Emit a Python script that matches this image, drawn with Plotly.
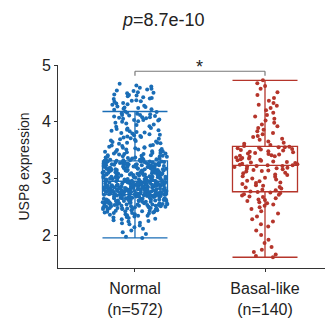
import plotly.graph_objects as go

categories = ["Normal", "Basal-like"]
sample_sizes = [572, 140]
p_value_text = "8.7e-10"
significance = "*"

normal_expr = [
    # below Q1
    1.95, 1.97, 2.02, 2.05, 2.08, 2.11, 2.14, 2.17, 2.19,
    2.21, 2.22, 2.24, 2.25, 2.26, 2.28, 2.29, 2.30, 2.31, 2.32,
    2.33, 2.34, 2.34, 2.35, 2.36, 2.37, 2.37, 2.38, 2.39, 2.39,
    2.40, 2.40,
    2.41, 2.41, 2.42, 2.42, 2.43, 2.43, 2.44, 2.44, 2.45, 2.45,
    2.46, 2.46, 2.46, 2.47, 2.47, 2.47, 2.48, 2.48, 2.48, 2.49,
    2.49, 2.49, 2.50, 2.50, 2.50, 2.51, 2.51, 2.51, 2.52, 2.52,
    2.52, 2.53, 2.53, 2.53, 2.53, 2.54, 2.54, 2.54, 2.54, 2.55,
    2.55, 2.55, 2.55, 2.55, 2.56,
    2.56, 2.56, 2.57, 2.57, 2.57, 2.57, 2.58, 2.58, 2.58, 2.58,
    2.59, 2.59, 2.59, 2.59, 2.60, 2.60, 2.60, 2.60, 2.61, 2.61,
    2.61, 2.61, 2.62, 2.62, 2.62, 2.62, 2.63, 2.63, 2.63, 2.63,
    2.64, 2.64, 2.64, 2.64, 2.65, 2.65, 2.65, 2.65, 2.66, 2.66,
    2.66, 2.66, 2.67, 2.67, 2.67, 2.67, 2.68, 2.68, 2.68, 2.68,
    2.69, 2.69, 2.69, 2.69, 2.70, 2.70, 2.70, 2.70, 2.70, 2.71,
    2.71, 2.71, 2.71, 2.71, 2.71, 2.71, 2.71,
    # Q1 to median
    2.72, 2.72, 2.72, 2.72, 2.72, 2.72, 2.73, 2.73, 2.73, 2.73,
    2.73, 2.73, 2.74, 2.74, 2.74, 2.74, 2.74, 2.74, 2.75, 2.75,
    2.75, 2.75, 2.75, 2.75, 2.76, 2.76, 2.76, 2.76, 2.76, 2.76,
    2.77, 2.77, 2.77, 2.77, 2.77, 2.77, 2.78, 2.78, 2.78, 2.78,
    2.78, 2.78, 2.79, 2.79, 2.79, 2.79, 2.79, 2.79, 2.80, 2.80,
    2.80, 2.80, 2.80, 2.80, 2.81, 2.81, 2.81, 2.81, 2.81, 2.81,
    2.82, 2.82, 2.82, 2.82, 2.82, 2.82, 2.83, 2.83, 2.83, 2.83,
    2.83, 2.83, 2.84, 2.84, 2.84, 2.84, 2.84, 2.84, 2.85, 2.85,
    2.85, 2.85, 2.85, 2.85, 2.86, 2.86, 2.86, 2.86, 2.86, 2.86,
    2.87, 2.87, 2.87, 2.87, 2.87, 2.87, 2.88, 2.88, 2.88, 2.88,
    2.88, 2.88, 2.89, 2.89, 2.89, 2.89, 2.89, 2.89, 2.90, 2.90,
    2.90, 2.90, 2.90, 2.90, 2.91, 2.91, 2.91, 2.91, 2.91, 2.91,
    2.92, 2.92, 2.92, 2.92, 2.92, 2.92, 2.93, 2.93, 2.93, 2.93,
    2.93, 2.93, 2.94, 2.94, 2.94, 2.94, 2.94, 2.94, 2.95, 2.95,
    2.95, 2.95, 2.95,
    # median to Q3
    2.95, 2.96, 2.96, 2.96, 2.96, 2.97, 2.97, 2.97, 2.97, 2.98,
    2.98, 2.98, 2.98, 2.99, 2.99, 2.99, 2.99, 3.00, 3.00, 3.00,
    3.00, 3.01, 3.01, 3.01, 3.01, 3.02, 3.02, 3.02, 3.02, 3.03,
    3.03, 3.03, 3.03, 3.04, 3.04, 3.04, 3.04, 3.05, 3.05, 3.05,
    3.05, 3.06, 3.06, 3.06, 3.06, 3.07, 3.07, 3.07, 3.07, 3.08,
    3.08, 3.08, 3.08, 3.09, 3.09, 3.09, 3.09, 3.10, 3.10, 3.10,
    3.10, 3.11, 3.11, 3.11, 3.11, 3.12, 3.12, 3.12, 3.12, 3.13,
    3.13, 3.13, 3.13, 3.14, 3.14, 3.14, 3.14, 3.15, 3.15, 3.15,
    3.15, 3.16, 3.16, 3.16, 3.16, 3.17, 3.17, 3.17, 3.17, 3.18,
    3.18, 3.18, 3.18, 3.19, 3.19, 3.19, 3.19, 3.20, 3.20, 3.20,
    3.20, 3.21, 3.21, 3.21, 3.21, 3.22, 3.22, 3.22, 3.22, 3.23,
    3.23, 3.23, 3.23, 3.24, 3.24, 3.24, 3.24, 3.25, 3.25, 3.25,
    3.25, 3.26, 3.26, 3.26, 3.26, 3.27, 3.27, 3.27, 3.27, 3.28,
    3.28, 3.28, 3.28, 3.29, 3.29, 3.29, 3.29, 3.30, 3.30, 3.30,
    3.30, 3.31, 3.31,
    # above Q3
    3.31, 3.31, 3.32, 3.34, 3.36, 3.38, 3.40, 3.44, 3.47, 3.31,
    3.32, 3.32, 3.33, 3.33, 3.34, 3.35, 3.35, 3.36, 3.37, 3.37,
    3.38, 3.39, 3.39, 3.40, 3.41, 3.41, 3.42, 3.43, 3.43, 3.44,
    3.45, 3.45, 3.46, 3.47, 3.48, 3.48, 3.49, 3.50, 3.51, 3.51,
    3.52, 3.53, 3.54, 3.54, 3.55, 3.56, 3.57, 3.58, 3.58, 3.59,
    3.61, 3.62, 3.63, 3.63, 3.65, 3.66, 3.67, 3.68, 3.70, 3.71,
    3.72, 3.73, 3.74, 3.76, 3.77, 3.78, 3.79, 3.80, 3.81, 3.82,
    3.83, 3.84, 3.85, 3.86, 3.87, 3.88, 3.89, 3.64, 3.69, 3.75,
    3.91, 3.92, 3.94, 3.95, 3.97, 3.98, 4.00, 4.01, 4.02, 4.03,
    4.04, 4.05, 4.06, 4.07, 4.08, 4.09, 4.10, 4.11, 4.12, 4.13,
    4.14, 4.15, 4.16, 4.17, 4.18, 4.03, 4.08, 4.12,
    4.21, 4.22, 4.23, 4.24, 4.25, 4.26, 4.27, 4.28, 4.30, 4.31,
    4.32, 4.33, 4.35, 4.36, 4.37, 4.38, 4.40, 4.41, 4.42, 4.43,
    4.45, 4.46, 4.47, 4.48, 4.50, 4.51, 4.52, 4.54, 4.55, 4.57,
    4.58, 4.60, 4.62, 4.64, 4.67,
]

basal_expr = [
    1.61, 1.63, 1.66, 1.70, 1.74, 1.79, 1.86, 1.92, 2.00, 2.08,
    2.15, 2.19, 2.24, 2.28, 2.33, 2.38, 2.42, 2.46, 2.49, 2.52,
    2.54, 2.56, 2.58, 2.60, 2.62, 2.63, 2.65, 2.67, 2.68, 2.70,
    2.71, 2.72, 2.74, 2.75, 2.76,
    2.77, 2.79, 2.80, 2.82, 2.84, 2.85, 2.87, 2.88, 2.90, 2.92,
    2.93, 2.95, 2.96, 2.98, 3.00, 3.01, 3.03, 3.04, 3.06, 3.07,
    3.09, 3.10, 3.12, 3.13, 3.14, 3.15, 3.16, 3.17, 3.18, 3.19,
    3.20, 3.21, 3.22, 3.22, 3.23,
    3.23, 3.24, 3.25, 3.26, 3.27, 3.28, 3.29, 3.30, 3.31, 3.32,
    3.33, 3.34, 3.35, 3.36, 3.37, 3.38, 3.39, 3.40, 3.41, 3.42,
    3.43, 3.44, 3.45, 3.46, 3.47, 3.48, 3.49, 3.50, 3.51, 3.52,
    3.53, 3.54, 3.55, 3.55, 3.56,
    3.57, 3.59, 3.61, 3.63, 3.65, 3.68, 3.70, 3.73, 3.75, 3.78,
    3.80, 3.83, 3.86, 3.89, 3.92, 3.95, 3.98, 4.02, 4.05, 4.09,
    4.12, 4.16, 4.20, 4.24, 4.28, 4.30, 4.33, 4.37, 4.42, 4.47,
    4.52, 4.58, 4.63, 4.68, 4.73,
]

colors = ["#1a6db6", "#b5352b"]
FONT = "Arial, Liberation Sans, sans-serif"

fig = go.Figure()
for cat, vals, col in zip(categories, [normal_expr, basal_expr], colors):
    fig.add_trace(go.Box(
        y=vals, x=[cat] * len(vals), name=cat,
        boxpoints="all", jitter=1, pointpos=0,
        marker=dict(color=col, size=4, line=dict(width=0)),
        line=dict(color=col, width=1.3),
        fillcolor="rgba(0,0,0,0)",
        whiskerwidth=1, width=0.5,
        showlegend=False, hoverinfo="y",
    ))

tick_text = [f"{c}<br>(n={n})" for c, n in zip(categories, sample_sizes)]

# significance bracket
fig.add_shape(type="line", x0=categories[0], x1=categories[1], y0=4.89, y1=4.89,
              xref="x", yref="y", line=dict(color="#777777", width=1.2))
for c in categories:
    fig.add_shape(type="line", x0=c, x1=c, y0=4.81, y1=4.89,
                  xref="x", yref="y", line=dict(color="#777777", width=1.2))
fig.add_annotation(x=0.5, y=4.89, xref="x", yref="y", text=significance,
                   showarrow=False, yanchor="bottom", yshift=-8,
                   font=dict(family=FONT, size=18, color="#222"))
fig.add_annotation(x=0.385, y=1.222, xref="paper", yref="paper",
                   xanchor="center", yanchor="middle",
                   text=f"<i>p</i>={p_value_text}", showarrow=False,
                   font=dict(family=FONT, size=18, color="#222"))

fig.update_layout(
    width=325, height=313,
    margin=dict(l=50, r=0, t=57, b=53),
    paper_bgcolor="white", plot_bgcolor="white",
    boxmode="overlay",
    font=dict(family=FONT, color="#222"),
    xaxis=dict(type="category", categoryorder="array", categoryarray=categories,
               tickvals=categories, ticktext=tick_text, automargin=False,
               range=[-0.592, 1.523], showline=True, linecolor="#333", linewidth=1,
               ticks="outside", ticklen=3, tickcolor="#333", ticklabelstandoff=3,
               tickfont=dict(size=16, family=FONT, color="#222"),
               showgrid=False, zeroline=False),
    yaxis=dict(range=[1.42, 5.0], tickvals=[2, 3, 4, 5], automargin=False,
               showline=True, linecolor="#333", linewidth=1,
               ticks="outside", ticklen=3, tickcolor="#333",
               tickfont=dict(size=16, family=FONT, color="#222"),
               title=dict(text="USP8 expression", font=dict(size=14, family=FONT, color="#222"), standoff=8),
               showgrid=False, zeroline=False),
)

fig.write_html("out.html")
